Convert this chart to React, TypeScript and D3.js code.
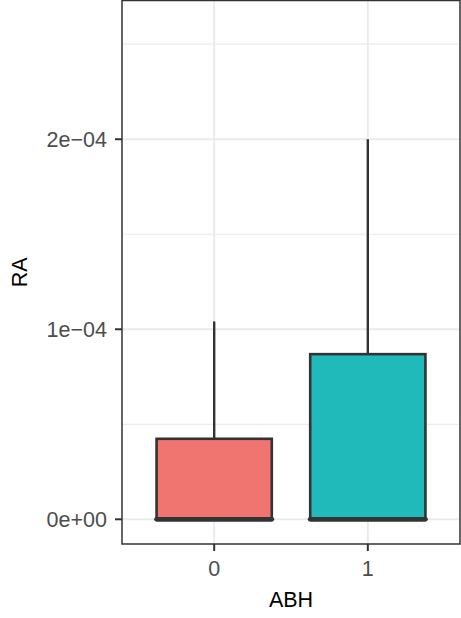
import React from "react";
import * as d3 from "d3";

const categories = ["0", "1"];
const whiskerLow = [0, 0];
const q1 = [0, 0];
const median = [0, 0];
const q3 = [0.4236e-4, 0.869e-4];
const whiskerHigh = [1.041e-4, 2.0e-4];
const fills = ["#F07470", "#21BABA"];
const yDomain = [-0.13e-4, 2.73e-4];
const majorTicks = [0, 1e-4, 2e-4];
const minorTicks = [0.5e-4, 1.5e-4, 2.5e-4];
const majorLabels = ["0e+00", "1e\u221204", "2e\u221204"];

const W = 461, H = 618;
const PL = 122, PR = 460, PT = 0.5, PB = 544;

export default function App() {
  const x = d3.scaleLinear().domain([0.4, categories.length + 0.6]).range([PL, PR]);
  const y = d3.scaleLinear().domain(yDomain).range([PB, PT]);
  const unit = x(2) - x(1);
  const bw = unit * 0.75;
  const font = "'Liberation Sans', Arial, Helvetica, sans-serif";
  const fs = 21.5;
  return (
    <svg width={W} height={H} style={{ position: "absolute", left: 0, top: 0, display: "block" }}>
      <rect x={0} y={0} width={W} height={H} fill="#fff" />
      <rect x={PL} y={PT} width={PR - PL} height={PB - PT} fill="#fff" />
      {minorTicks.map((t, i) => (
        <line key={"mn" + i} x1={PL} x2={PR} y1={y(t)} y2={y(t)} stroke="#EBEBEB" strokeWidth={1.2} />
      ))}
      {majorTicks.map((t, i) => (
        <line key={"mj" + i} x1={PL} x2={PR} y1={y(t)} y2={y(t)} stroke="#EBEBEB" strokeWidth={2} />
      ))}
      {categories.map((c, i) => (
        <line key={"vg" + i} x1={x(i + 1)} x2={x(i + 1)} y1={PT} y2={PB} stroke="#EBEBEB" strokeWidth={2} />
      ))}
      {categories.map((c, i) => {
        const cx = x(i + 1);
        return (
          <g key={"b" + i}>
            <line x1={cx} x2={cx} y1={y(q3[i])} y2={y(whiskerHigh[i])} stroke="#333" strokeWidth={2.4} />
            <line x1={cx} x2={cx} y1={y(q1[i])} y2={y(whiskerLow[i])} stroke="#333" strokeWidth={2.4} />
            <rect x={cx - bw / 2} y={y(q3[i])} width={bw} height={y(q1[i]) - y(q3[i])} fill={fills[i]} stroke="#333" strokeWidth={2.6} />
            <line x1={cx - bw / 2} x2={cx + bw / 2} y1={y(median[i])} y2={y(median[i])} stroke="#333" strokeWidth={4.8} strokeLinecap="round" />
          </g>
        );
      })}
      <rect x={PL} y={PT} width={PR - PL} height={PB - PT} fill="none" stroke="#333" strokeWidth={1.5} />
      {majorTicks.map((t, i) => (
        <g key={"yt" + i}>
          <line x1={PL - 7} x2={PL} y1={y(t)} y2={y(t)} stroke="#333" strokeWidth={2} />
          <text x={PL - 15} y={y(t)} dy="0.36em" textAnchor="end" fontFamily={font} fontSize={fs} fill="#4D4D4D">{majorLabels[i]}</text>
        </g>
      ))}
      {categories.map((c, i) => (
        <g key={"xt" + i}>
          <line x1={x(i + 1)} x2={x(i + 1)} y1={PB} y2={PB + 7} stroke="#333" strokeWidth={2} />
          <text x={x(i + 1)} y={576} textAnchor="middle" fontFamily={font} fontSize={fs} fill="#4D4D4D">{c}</text>
        </g>
      ))}
      <text x={(PL + PR) / 2} y={607} textAnchor="middle" fontFamily={font} fontSize={fs} fill="#000">ABH</text>
      <text transform={`translate(26.5,${(PT + PB) / 2}) rotate(-90)`} textAnchor="middle" fontFamily={font} fontSize={fs} fill="#000">RA</text>
    </svg>
  );
}
